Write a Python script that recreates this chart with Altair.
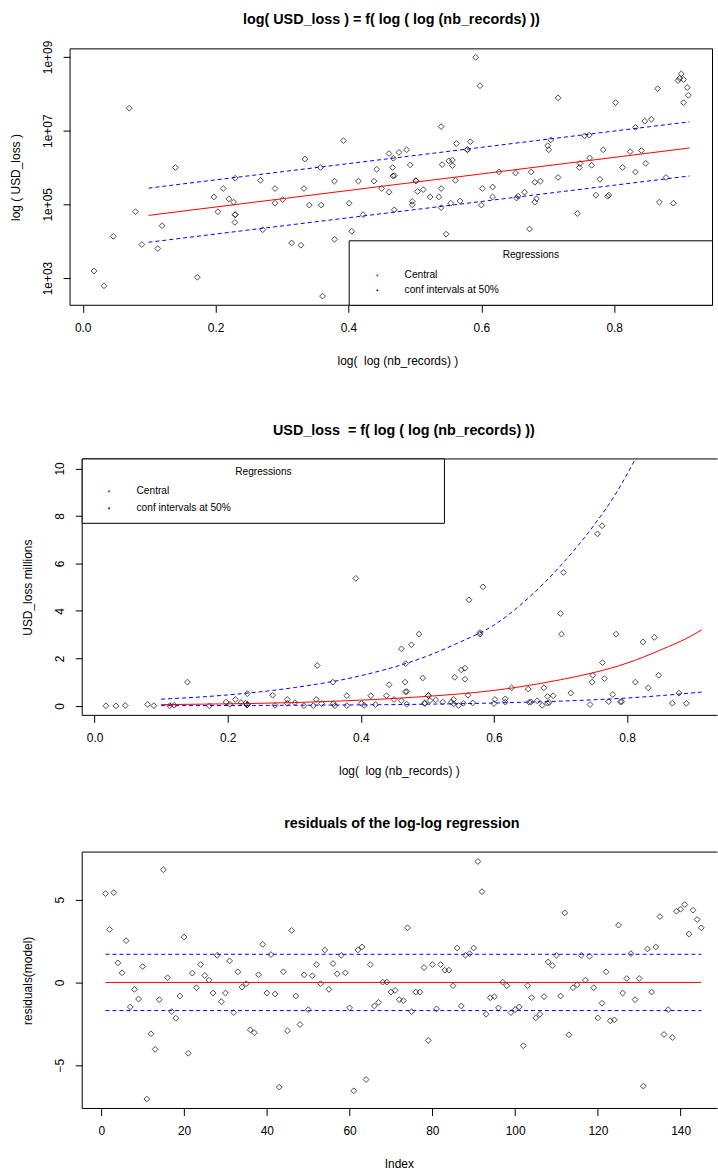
import altair as alt
import pandas as pd

# ---------------- data ----------------
# observations: x = log(log(nb_records)), y = log10(USD_loss)
obs_x = [0.017, 0.032, 0.046, 0.070, 0.0795, 0.089, 0.113, 0.1195, 0.1395, 0.1725,
         0.1975, 0.2035, 0.2115, 0.220, 0.227, 0.229, 0.2295, 0.2295, 0.2295,
         0.2675, 0.271, 0.2895, 0.2895, 0.301, 0.3145, 0.3285, 0.333, 0.3345, 0.341,
         0.358, 0.359, 0.361, 0.379, 0.379, 0.3925, 0.401, 0.405, 0.415, 0.422,
         0.4385, 0.4425, 0.450, 0.461, 0.461, 0.4665, 0.467, 0.4675, 0.469, 0.469, 0.476,
         0.4875, 0.493, 0.496, 0.496, 0.5015, 0.5015, 0.504, 0.5125, 0.523, 0.536,
         0.5395, 0.5395, 0.5395, 0.541, 0.547, 0.551, 0.554, 0.5565, 0.5565, 0.561,
         0.5625, 0.568, 0.579, 0.579, 0.5835, 0.5915, 0.598, 0.600, 0.6015, 0.617,
         0.617, 0.6265, 0.6515, 0.653, 0.6555, 0.665, 0.6725, 0.675, 0.6805, 0.6805,
         0.683, 0.689, 0.700, 0.7015, 0.7045, 0.7155, 0.7155,
         0.7445, 0.7475, 0.7485, 0.7555, 0.7625, 0.763, 0.766, 0.7725, 0.7785, 0.7835,
         0.790, 0.792, 0.802, 0.8125, 0.824, 0.832, 0.832, 0.841, 0.846, 0.8475, 0.856,
         0.8655, 0.868, 0.878, 0.889, 0.896, 0.8985, 0.901, 0.9045, 0.9045, 0.910, 0.9115]
obs_log10 = [3.19, 2.79, 4.13, 7.61, 4.80, 3.91, 3.80, 4.42, 6.00, 3.02,
             5.20, 4.80, 5.43, 5.15, 5.06, 4.51, 5.71, 4.72, 4.72,
             5.65, 4.31, 5.43, 5.03, 5.13, 3.95, 3.89, 5.43, 6.23, 4.98,
             6.00, 4.98, 2.51, 5.63, 4.05, 6.73, 5.03, 4.27, 5.63, 4.72,
             5.63, 5.95, 5.43, 5.33, 6.38, 6.00, 5.77, 6.25, 5.78, 4.85, 6.41,
             6.48, 6.07, 5.08, 4.99, 5.64, 5.64, 5.35, 5.40, 5.20, 5.20,
             5.43, 4.91, 7.11, 6.08, 4.19, 6.18, 5.03, 6.20, 6.05, 5.65,
             6.65, 5.09, 6.48, 6.49, 6.70, 8.99, 8.22, 4.98, 5.43, 5.47,
             5.20, 5.88, 5.85, 5.17, 5.22, 5.33, 4.33, 5.88, 5.60, 5.06,
             5.15, 5.63, 6.59, 6.48, 6.75, 7.89, 5.73,
             4.75, 6.00, 6.11, 6.86, 6.88, 6.26, 6.06, 5.25, 5.68, 6.48,
             5.22, 5.25, 7.76, 6.00, 6.43, 5.88, 7.09, 6.46, 7.26, 6.11, 7.31,
             8.14, 5.06, 5.73, 5.03, 8.36, 8.42, 8.54, 8.39, 7.76, 8.17, 7.96]
assert len(obs_x) == len(obs_log10)

# regression lines of panel 1 (log10 scale)
reg_x = [0.099, 0.9135]
reg_central = [4.70, 6.53]
reg_upper = [5.44, 7.24]
reg_lower = [3.97, 5.77]

# regression curves of panel 2 (USD millions)
central_x = [0.1, 0.2, 0.3, 0.4, 0.5, 0.6, 0.65, 0.7, 0.75, 0.8, 0.85, 0.9, 0.912]
central_m = [0.05, 0.085, 0.14, 0.24, 0.40, 0.65, 0.85, 1.1, 1.4, 1.8, 2.35, 3.0, 3.2]
upper_x = [0.1, 0.2, 0.3, 0.4, 0.5, 0.55, 0.6, 0.65, 0.7, 0.75, 0.78, 0.82]
upper_m = [0.28, 0.46, 0.77, 1.27, 2.1, 2.7, 3.4, 4.5, 5.9, 7.6, 8.8, 10.8]
lower_x = [0.1, 0.3, 0.5, 0.6, 0.7, 0.8, 0.85, 0.912]
lower_m = [0.009, 0.025, 0.07, 0.12, 0.2, 0.33, 0.43, 0.58]

# residuals of the log-log regression, in index order
residuals = [5.36, 3.2, 5.42, 1.18, 0.58, 2.52, -1.48, -0.42, -1.0, 0.96,
             -7.04, -3.1, -4.04, -1.04, 6.8, 0.28, -1.76, -2.16, -0.82, 2.74,
             -4.28, 0.56, -0.32, 1.08, 0.42, 0.14, -0.64, 1.64, -1.16, -0.64,
             1.3, -1.82, 0.64, -0.28, -0.08, -2.86, -3.04, 0.46, 2.3, -0.64,
             1.68, -0.7, -6.32, 0.64, -2.92, 3.14, -0.82, -2.54, 0.46, -1.64,
             0.4, 1.08, -0.08, 1.96, -0.42, 1.14, 0.52, 1.64, 0.58, -1.54,
             -6.54, 1.96, 2.14, -5.86, 1.08, -1.42, -1.2, 0.02, 0.02, -0.58,
             -0.48, -1.04, -1.1, 3.3, -1.76, -0.58, -0.58, 0.9, -3.5, 1.08,
             -1.6, 1.08, 0.74, 0.74, -0.2, 2.08, -1.42, 1.64, 1.74, 2.08,
             7.3, 5.48, -1.92, -0.92, -0.86, -1.54, 0.02, -0.2, -1.82, -1.64,
             -1.48, -3.82, -0.2, -0.92, -2.14, -1.92, -0.86, 1.24, 1.02, 1.64,
             -0.82, 4.2, -3.16, -0.32, -0.14, 1.64, 0.14, 1.58, -0.32, -2.14,
             -1.26, 0.64, -2.32, -2.26, 3.46, -0.64, 0.24, 1.74, -1.04, 0.24,
             -6.26, 2.02, -0.58, 2.14, 3.98, -3.14, -1.64, -3.32, 4.3, 4.42,
             4.7, 2.92, 4.36, 3.8, 3.3]
resid_index = list(range(1, len(residuals) + 1))
resid_line_x = [1, 145]
resid_center = [0.0, 0.0]
resid_upper = [1.70, 1.70]
resid_lower = [-1.70, -1.70]

legend_title = "Regressions"
legend_labels = ["Central", "conf intervals at 50%"]
legend_colors = ["#FF0000", "#0000FF"]

NB = "\u00a0"
titles = ["log( USD_loss ) = f( log ( log (nb_records) ))",
          "USD_loss" + NB + " = f( log ( log (nb_records) ))",
          "residuals of the log-log regression"]
x_title_12 = "log(" + NB + " log (nb_records) )"
x_title_3 = "Index"
y_titles = ["log ( USD_loss )", "USD_loss millions", "residuals(model)"]

# ---------------- layout ----------------
FONT = "Liberation Sans"
H = 257.3
W1 = 632.5
W = 635.5
AXOFF1 = 12.2
RED = "#FF0000"
BLUE = "#0000FF"
DASH = [4, 3]
PT_SIZE = 34
one = pd.DataFrame({"k": [0]})


def x_axis(title, values, fmt):
    return alt.Axis(values=values, format=fmt, title=title, tickSize=7,
                    labelPadding=10, titlePadding=22, labelFlush=False)


def y_axis(title, values, expr=None, offset=0):
    kw = dict(values=values, title=title, labelAngle=-90, labelAlign="center",
              labelBaseline="bottom", tickSize=7, labelPadding=8.5, titlePadding=19,
              labelFlush=False)
    if expr:
        kw["labelExpr"] = expr
    if offset:
        kw["offset"] = offset
    return alt.Axis(**kw)


def title_params(text, dx, offset):
    return alt.TitleParams(text=text, fontSize=14.4, fontWeight="bold", font=FONT,
                           anchor="middle", frame="group", dx=dx, offset=offset,
                           baseline="alphabetic", color="black")


def frame(x0, x1, right=True):
    base = alt.Chart(one)
    parts = [
        base.mark_rule(color="black", strokeWidth=1).encode(
            x=alt.value(x0), x2=alt.value(x1), y=alt.value(0)),
        base.mark_rule(color="black", strokeWidth=1).encode(
            x=alt.value(x0), x2=alt.value(x1), y=alt.value(H)),
        base.mark_rule(color="black", strokeWidth=1).encode(
            x=alt.value(x0), y=alt.value(0), y2=alt.value(H)),
    ]
    if right:
        parts.append(base.mark_rule(color="black", strokeWidth=1).encode(
            x=alt.value(x1), y=alt.value(0), y2=alt.value(H)))
    return parts


def legend(x0, x1, y0, y1, tx, ty, dot_x, lab_x, row_y):
    base = alt.Chart(one)
    parts = [base.mark_rect(fill="white", stroke="black", strokeWidth=1).encode(
        x=alt.value(x0), x2=alt.value(x1), y=alt.value(y0), y2=alt.value(y1)),
        base.mark_text(text=legend_title, font=FONT, fontSize=10.2, color="black",
                       align="center", baseline="middle").encode(
            x=alt.value(tx), y=alt.value(ty))]
    for lab, col, ry in zip(legend_labels, legend_colors, row_y):
        parts.append(base.mark_square(color=col, size=3, opacity=1).encode(
            x=alt.value(dot_x), y=alt.value(ry)))
        parts.append(base.mark_text(text=lab, font=FONT, fontSize=10.2, color="black",
                                    align="left", baseline="middle").encode(
            x=alt.value(lab_x), y=alt.value(ry)))
    return parts


# ---------------- panel 1 ----------------
df_obs = pd.DataFrame({"x": obs_x, "y": obs_log10})
xs1 = alt.Scale(domain=[-0.00075, 0.948], nice=False, zero=False)
ys1 = alt.Scale(domain=[2.26, 9.22], nice=False, zero=False)
xa1 = x_axis(x_title_12, [0, 0.2, 0.4, 0.6, 0.8], ".1f")
ya1 = y_axis(y_titles[0], [3, 5, 7, 9], "'1e+0' + datum.value", AXOFF1)

pts1 = alt.Chart(df_obs).mark_point(shape="diamond", filled=False, size=PT_SIZE,
                                    color="black", strokeWidth=1).encode(
    x=alt.X("x:Q", scale=xs1, axis=xa1), y=alt.Y("y:Q", scale=ys1, axis=ya1))

reg_df = pd.DataFrame({"x": reg_x * 3,
                       "y": reg_central + reg_upper + reg_lower,
                       "s": ["c"] * 2 + ["u"] * 2 + ["l"] * 2})
reg_c = alt.Chart(reg_df).transform_filter("datum.s == 'c'").mark_line(
    color=RED, strokeWidth=1).encode(
    x=alt.X("x:Q", scale=xs1, axis=xa1), y=alt.Y("y:Q", scale=ys1, axis=ya1))
reg_b = alt.Chart(reg_df).transform_filter("datum.s != 'c'").mark_line(
    color=BLUE, strokeWidth=1, strokeDash=DASH).encode(
    x=alt.X("x:Q", scale=xs1, axis=xa1), y=alt.Y("y:Q", scale=ys1, axis=ya1),
    detail="s:N")

spacer1 = alt.Chart(one).mark_rule(opacity=0).encode(
    x=alt.value(0), x2=alt.value(1), y=alt.value(H + 77))

p1 = alt.layer(*frame(-AXOFF1, W1), pts1, reg_c, reg_b,
               *legend(267.9, W1, 192.6, H, 450.2, 206.5, 296.2, 323.5, [227.3, 242.3]),
               spacer1).properties(
    width=W1, height=H, title=title_params(titles[0], -6, 2))

# ---------------- panel 2 ----------------
xs2 = alt.Scale(domain=[-0.0186, -0.0186 + W / 667.9], nice=False, zero=False)
ys2 = alt.Scale(domain=[-0.4, 10.4], nice=False, zero=False)
xa2 = x_axis(x_title_12, [0, 0.2, 0.4, 0.6, 0.8], ".1f")
ya2 = y_axis(y_titles[1], [0, 2, 4, 6, 8, 10])

pts2 = alt.Chart(df_obs).transform_calculate(m="pow(10, datum.y - 6)").mark_point(
    shape="diamond", filled=False, size=PT_SIZE, color="black", strokeWidth=1, clip=True).encode(
    x=alt.X("x:Q", scale=xs2, axis=xa2), y=alt.Y("m:Q", scale=ys2, axis=ya2))

cur_df = pd.DataFrame({"x": central_x + upper_x + lower_x,
                       "m": central_m + upper_m + lower_m,
                       "s": ["c"] * len(central_x) + ["u"] * len(upper_x) + ["l"] * len(lower_x)})
cur_c = alt.Chart(cur_df).transform_filter("datum.s == 'c'").mark_line(
    color=RED, strokeWidth=1, clip=True, interpolate="monotone").encode(
    x=alt.X("x:Q", scale=xs2, axis=xa2), y=alt.Y("m:Q", scale=ys2, axis=ya2))
cur_b = alt.Chart(cur_df).transform_filter("datum.s != 'c'").mark_line(
    color=BLUE, strokeWidth=1, strokeDash=DASH, clip=True, interpolate="monotone").encode(
    x=alt.X("x:Q", scale=xs2, axis=xa2), y=alt.Y("m:Q", scale=ys2, axis=ya2),
    detail="s:N")

p2 = alt.layer(*frame(0, W + 2, right=False), pts2, cur_c, cur_b,
               *legend(0, 363.5, 0, 64.6, 181.8, 12.8, 27, 54.5, [32.6, 49.6])).properties(
    width=W, height=H, title=title_params(titles[1], 5, 9.5))

# ---------------- panel 3 ----------------
df_res = pd.DataFrame({"i": resid_index, "r": residuals})
xs3 = alt.Scale(domain=[-4.62, -4.62 + W / 4.152], nice=False, zero=False)
ys3 = alt.Scale(domain=[-7.61, 7.87], nice=False, zero=False)
xa3 = x_axis(x_title_3, [0, 20, 40, 60, 80, 100, 120, 140], "d")
ya3 = y_axis(y_titles[2], [-5, 0, 5])

pts3 = alt.Chart(df_res).mark_point(shape="diamond", filled=False, size=PT_SIZE,
                                    color="black", strokeWidth=1).encode(
    x=alt.X("i:Q", scale=xs3, axis=xa3), y=alt.Y("r:Q", scale=ys3, axis=ya3))

rl_df = pd.DataFrame({"i": resid_line_x * 3,
                      "r": resid_center + resid_upper + resid_lower,
                      "s": ["c"] * 2 + ["u"] * 2 + ["l"] * 2})
rl_c = alt.Chart(rl_df).transform_filter("datum.s == 'c'").mark_line(
    color=RED, strokeWidth=1).encode(
    x=alt.X("i:Q", scale=xs3, axis=xa3), y=alt.Y("r:Q", scale=ys3, axis=ya3))
rl_b = alt.Chart(rl_df).transform_filter("datum.s != 'c'").mark_line(
    color=BLUE, strokeWidth=1, strokeDash=DASH).encode(
    x=alt.X("i:Q", scale=xs3, axis=xa3), y=alt.Y("r:Q", scale=ys3, axis=ya3),
    detail="s:N")

p3 = alt.layer(*frame(0, W + 2, right=False), pts3, rl_c, rl_b).properties(
    width=W, height=H, title=title_params(titles[2], 3, 9))

chart = alt.vconcat(p1, p2, p3, spacing=39.5).properties(
    padding={"left": 9.5, "top": 9, "right": 0, "bottom": 0}
).configure_view(strokeWidth=0).configure_axis(
    labelFont=FONT, titleFont=FONT, labelFontSize=12, titleFontSize=12,
    titleFontWeight="normal", labelColor="black", titleColor="black",
    tickColor="black", grid=False, domain=False
)

chart.save("out.html", embed_options={"renderer": "svg", "actions": False})
